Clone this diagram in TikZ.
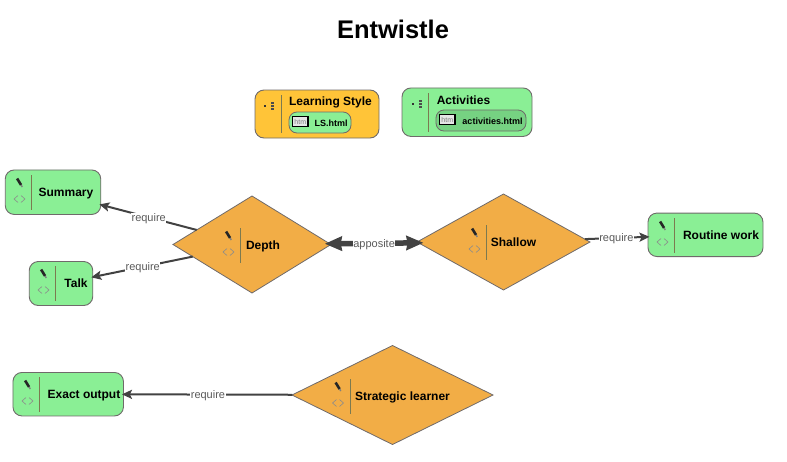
\documentclass[tikz,border=0pt]{standalone}
\usepackage{fontspec}
\setmainfont{Liberation Sans}
\usetikzlibrary{arrows.meta,shapes.geometric}
\definecolor{taskgreen}{HTML}{8AEF95}
\definecolor{chipgreen}{HTML}{76D282}
\definecolor{groupyellow}{HTML}{FFC438}
\definecolor{claimorange}{HTML}{F2AD46}
\definecolor{edgegray}{HTML}{6F6A6A}
\definecolor{linkgray}{HTML}{424242}
\definecolor{labelgray}{HTML}{5A5A5A}
\definecolor{rulegray}{HTML}{7C7A50}
\tikzset{
  taskbox/.style={draw=edgegray,fill=taskgreen,line width=0.9pt,rounded corners=9pt,inner sep=0pt,outer sep=0pt},
  claim/.style={diamond,draw=edgegray,fill=claimorange,line width=0.8pt,inner sep=0pt,outer sep=0pt},
  chip/.style={draw=edgegray,line width=0.8pt,rounded corners=8pt,inner sep=0pt,outer sep=0pt},
  title/.style={font=\fontsize{12}{14}\selectfont\bfseries,inner sep=0pt,anchor=base},
  chiptext/.style={font=\fontsize{9}{11}\selectfont\bfseries,inner sep=0pt,anchor=base},
  linklabel/.style={font=\fontsize{11}{13}\selectfont,text=labelgray,fill=white,inner sep=0.5pt,yshift=-1pt},
  require/.style={draw=linkgray,line width=2pt,shorten >=-1.5pt,-{Stealth[length=10pt,width=9pt,inset=2pt]}},
  apposite/.style={draw=linkgray,line width=5.5pt,{Stealth[length=17pt,width=14pt,inset=1pt]}-{Stealth[length=17pt,width=14pt,inset=1pt]}}
}
% pencil, <> mark and rule of one element
\newcommand{\markicons}[2]{
  \draw[black!85,line width=2.6pt] (#1-2.4,#2+3.5) -- (#1+1.6,#2+10);
  \draw[gray,line width=1.4pt] (#1+1.6,#2+10) -- (#1+2.8,#2+12);
  \draw[labelgray!70,line width=0.6pt] (#1-1.5,#2+20.5) -- (#1-5.5,#2+24) -- (#1-1.5,#2+27.5);
  \draw[labelgray!70,line width=0.6pt] (#1+1.5,#2+20.5) -- (#1+5.5,#2+24) -- (#1+1.5,#2+27.5);
  \draw[rulegray,line width=0.8pt] (#1+12,#2) -- (#1+12,#2+35);
}
% dot and list mark of one group
\newcommand{\groupicons}[2]{
  \fill[black!80] (#1-1.2,#2-1.2) rectangle (#1+1.2,#2+1.2);
  \foreach \k in {-3,0,3}
    \fill[black!70] (#1+6,#2+\k-0.9) rectangle (#1+8.5,#2+\k+0.9);
}
% html mark of one chip
\newcommand{\htmlmark}[2]{
  \draw[black,fill=black!10,line width=1.1pt] (#1,#2) rectangle (#1+15.5,#2+10);
  \node[font=\fontsize{7}{8}\selectfont,text=gray,inner sep=0pt] at (#1+7.75,#2+5) {htm};
}
\begin{document}
\begin{tikzpicture}[x=1pt,y=-1pt]
\useasboundingbox (0,0) rectangle (787,461);
% Title
\node[font=\fontsize{25.5}{30}\selectfont\bfseries,inner sep=0pt] (entwistle) at (393,29) {Entwistle};
% Groups
\node[taskbox,fill=groupyellow,minimum width=124,minimum height=48] (learning) at (317,114) {};
\node[taskbox,minimum width=130,minimum height=48.5] (activities) at (467,112.2) {};
\node[chip,fill=taskgreen,minimum width=62,minimum height=21] (lshtml) at (320,122.5) {};
\node[chip,fill=chipgreen,minimum width=90,minimum height=21] (acthtml) at (481,120.5) {};
\groupicons{265}{106}
\groupicons{413}{104}
\draw[rulegray,line width=0.8pt] (281,95) -- (281,133);
\draw[rulegray,line width=0.8pt] (428.5,93) -- (428.5,132);
\htmlmark{292.5}{116.5}
\htmlmark{439.5}{114.5}
\node[title] (lstitle) at (330.5,105) {Learning Style};
\node[title] (acttitle) at (463.5,104) {Activities};
\node[chiptext] (lstext) at (331,126) {LS.html};
\node[chiptext] (acttext) at (492.5,124) {activities.html};
% Elements
\node[taskbox,minimum width=95.5,minimum height=44.5] (summary) at (53,192.2) {};
\node[taskbox,minimum width=63.5,minimum height=44] (talk) at (61,283.5) {};
\node[taskbox,minimum width=115,minimum height=43.5] (routine) at (705.5,234.8) {};
\node[taskbox,minimum width=110.5,minimum height=43.5] (exact) at (68.2,394.2) {};
\node[claim,minimum width=158,minimum height=97] (depth) at (252,244.5) {};
\node[claim,minimum width=173,minimum height=96] (shallow) at (503.5,242) {};
\node[claim,minimum width=201,minimum height=99] (strategic) at (392.5,395) {};
% Links
\draw[require] (depth) -- node[midway,linklabel] (reqsummary) {require} (summary);
\draw[require] (depth) -- node[midway,linklabel] (reqtalk) {require} (talk);
\draw[require] (shallow) -- node[midway,linklabel] (reqroutine) {require} (routine);
\draw[require] (strategic) -- node[midway,linklabel] (reqexact) {require} (exact);
\draw[apposite,shorten <=-5pt,shorten >=-5pt] (depth) -- node[midway,linklabel] (appdepth) {apposite} (shallow);
% Marks
\markicons{19.5}{175}
\markicons{43.5}{266}
\markicons{662.5}{218}
\markicons{27.5}{377}
\markicons{228.5}{228}
\markicons{474.5}{225}
\markicons{338}{379}
% Names
\node[title] (summarytext) at (66,196) {Summary};
\node[title] (talktext) at (76,287) {Talk};
\node[title] (routinetext) at (721,239) {Routine work};
\node[title] (exacttext) at (84,398) {Exact output};
\node[title] (depthtext) at (263,249) {Depth};
\node[title] (shallowtext) at (513.5,246) {Shallow};
\node[title] (strategictext) at (402.5,400) {Strategic learner};
\end{tikzpicture}
\end{document}
